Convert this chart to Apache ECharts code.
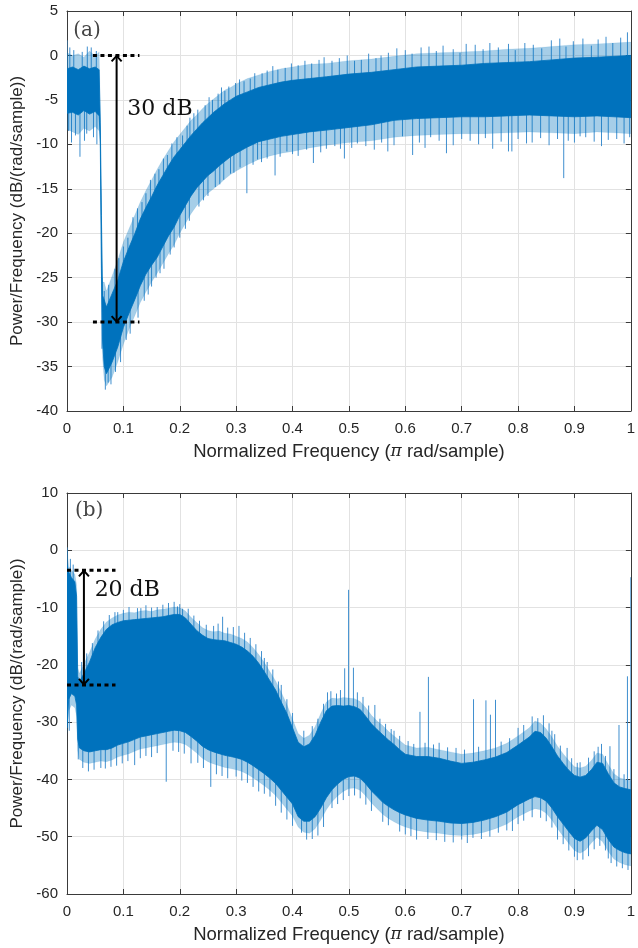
<!DOCTYPE html>
<html><head><meta charset="utf-8">
<script src="https://cdn.jsdelivr.net/npm/echarts@6/dist/echarts.min.js"></script>
<style>html,body{margin:0;padding:0;background:#fff}#chart{width:638px;height:948px}</style>
</head><body><div id="chart"></div>
<script>
// ---------- Panel (a) ----------
const freqA = [0,0.01,0.02,0.03,0.04,0.05,0.057,0.059,0.061,0.063,0.066,0.07,
  0.08,0.09,0.10,0.11,0.12,0.13,0.14,0.15,0.16,0.17,0.18,0.19,0.20,0.21,0.22,0.23,0.24,0.25,0.26,0.27,0.28,0.29,0.30,
  0.32,0.34,0.36,0.38,0.40,0.43,0.46,0.50,0.54,0.58,0.62,0.66,0.70,0.74,0.78,0.82,0.86,0.90,0.94,0.97,1.0];
const topA = [-1.5,-1.3,-1.6,-1.2,-1.5,-1.3,-1.6,-7.5,-18,-27,-27.5,-28.3,
  -26.8,-25.3,-23.2,-21.6,-20.1,-18.4,-17.1,-15.9,-14.6,-13.5,-12.4,-11.4,-10.6,-9.8,-9.0,-8.3,-7.6,-7.0,-6.4,-5.9,-5.4,-5.0,-4.6,
  -4.1,-3.6,-3.3,-3.0,-2.8,-2.6,-2.4,-2.1,-1.9,-1.6,-1.3,-1.2,-1.1,-0.9,-0.8,-0.7,-0.5,-0.3,-0.2,-0.1,0.0];
const botA = [-6.5,-6.4,-6.7,-6.2,-6.6,-6.3,-6.8,-9.5,-24,-32,-35,-35.8,
  -34.5,-32.8,-30.6,-29.0,-27.5,-25.9,-24.6,-23.6,-22.7,-21.5,-20.3,-19.3,-18.0,-16.9,-15.8,-14.9,-14.2,-13.5,-13.0,-12.4,-11.9,-11.4,-11.0,
  -10.3,-9.7,-9.4,-9.1,-8.9,-8.6,-8.4,-8.1,-7.8,-7.3,-7.1,-7.0,-6.9,-6.9,-6.8,-6.7,-6.8,-6.9,-6.8,-6.9,-7.0];
const peakA = [0.3,0.0,0.2,-0.2,0.5,-0.1,0.4,-6,-17,-25.5,-25.5,-26.5,
  -24.8,-23,-21,-19.5,-18,-16.5,-15.2,-14,-12.8,-11.7,-10.7,-9.7,-8.9,-8.1,-7.3,-6.7,-6,-5.4,-4.9,-4.4,-3.9,-3.6,-3.2,
  -2.6,-2.2,-1.8,-1.5,-1.3,-1.0,-0.9,-0.6,-0.4,-0.1,0.2,0.3,0.4,0.5,0.7,0.8,1.0,1.2,1.3,1.4,1.5];
const dipA = [-8.3,-8.6,-8.9,-8.2,-8.5,-8.0,-8.5,-10.5,-26,-34,-36.5,-37.2,
  -36.2,-34.5,-32.5,-30.8,-29.3,-27.8,-26.6,-25.5,-24.5,-23.4,-22.3,-21.3,-20,-18.9,-17.8,-16.9,-16.2,-15.5,-15,-14.5,-13.9,-13.4,-13,
  -12.3,-11.7,-11.3,-11,-10.8,-10.4,-10.1,-9.8,-9.6,-9.2,-9.0,-8.9,-8.8,-8.8,-8.7,-8.6,-8.7,-8.8,-8.6,-8.7,-8.8];
// spikes: [frequency, tip value, base value]
const spikesA = [
  [0,1.7,-4],[0.012,0.6,-3],[0.043,0.9,-3],[0.052,0.5,-3],[0.066,-26.5,-30],[0.085,-24,-29],[0.1,-21.5,-26],
  [0.117,-18.2,-24],[0.14,-15.5,-20],[0.163,-12.8,-18],[0.178,-11.2,-16],[0.205,-9,-14],[0.225,-6.5,-11],
  [0.258,-5,-9],[0.28,-4,-8],[0.299,-3.1,-7],[0.325,-2.6,-6],[0.346,-2.0,-6],[0.387,-1.4,-5],[0.434,-0.9,-5],
  [0.47,-0.6,-5],[0.522,-0.5,-4],[0.557,0.0,-4],[0.6,0.6,-4],[0.642,1.0,-4],[0.685,0.7,-4],[0.724,1.2,-4],
  [0.783,1.3,-4],[0.812,1.4,-4],[0.859,1.7,-4],[0.874,1.9,-4],[0.915,1.9,-4],[0.956,2.1,-4],[0.994,2.6,-4],
  [0.008,-9.8,-4],[0.015,-9,-4],[0.023,-11.4,-4],[0.035,-8.8,-4],[0.047,-9.2,-4],[0.062,-33,-25],[0.068,-37.6,-32],
  [0.073,-36.8,-32],[0.095,-34.5,-30],[0.126,-29.5,-25],[0.15,-26,-21],[0.172,-24,-19],[0.2,-20.5,-15],
  [0.234,-17,-12],[0.263,-14.8,-10],[0.29,-13.3,-9],[0.319,-15.5,-8],[0.345,-12,-7],[0.369,-13.5,-6],
  [0.41,-11.3,-6],[0.437,-12.1,-6],[0.46,-10.5,-6],[0.492,-11.6,-5],[0.53,-10.2,-5],[0.569,-10.8,-5],
  [0.595,-9.1,-5],[0.613,-11.2,-5],[0.645,-9.2,-5],[0.673,-11,-5],[0.7,-9.4,-4],[0.755,-10.5,-4],
  [0.783,-10.8,-4],[0.789,-10.8,-4],[0.815,-9.9,-4],[0.881,-13.8,-4],[0.889,-9.6,-4],[0.92,-9.2,-4],
  [0.96,-9.5,-4],[0.998,-9.2,-4],
  [0.005,0.9,-3],[0.027,0.4,-3],[0.036,1.0,-3],[0.074,-25.8,-30],[0.092,-22.8,-27],[0.108,-20.5,-25],[0.125,-17.2,-22],
  [0.133,-16.5,-21],[0.148,-14,-19],[0.156,-13.3,-18],[0.171,-11.6,-16],[0.186,-9.9,-14],[0.195,-9.2,-14],[0.213,-7.9,-12],
  [0.218,-7.0,-12],[0.232,-6.1,-11],[0.245,-5.6,-10],[0.252,-4.7,-9],[0.268,-4.3,-9],[0.274,-3.6,-8],[0.287,-3.5,-8],
  [0.306,-2.7,-7],[0.314,-2.9,-7],[0.333,-2.0,-6],[0.355,-1.7,-6],[0.365,-1.2,-6],[0.374,-1.6,-5],[0.398,-0.9,-5],
  [0.41,-1.1,-5],[0.422,-0.6,-5],[0.447,-0.5,-5],[0.456,-0.2,-5],[0.483,-0.3,-5],[0.497,0.0,-4],[0.51,-0.6,-4],
  [0.535,0.2,-4],[0.548,-0.3,-4],[0.57,0.3,-4],[0.585,0.8,-4],[0.612,0.2,-4],[0.628,0.9,-4],[0.655,0.5,-4],
  [0.667,1.1,-4],[0.697,0.3,-4],[0.708,1.3,-4],[0.738,0.7,-4],[0.75,1.4,-4],[0.765,0.9,-4],[0.795,0.6,-4],
  [0.827,1.2,-4],[0.842,0.8,-4],[0.885,1.0,-4],[0.898,1.6,-4],[0.93,1.1,-4],[0.942,1.8,-4],[0.968,1.4,-4],[0.982,2.0,-4],
  [0.003,-8.5,-4],[0.031,-9.6,-4],[0.053,-10,-4],[0.078,-37,-32],[0.086,-35.6,-30],[0.105,-32,-28],[0.112,-31.3,-27],
  [0.137,-27.6,-23],[0.144,-26.9,-22],[0.158,-25,-20],[0.165,-24.5,-20],[0.183,-22.4,-18],[0.19,-21.6,-17],[0.21,-19.5,-14],
  [0.217,-18.6,-13],[0.242,-16.3,-12],[0.25,-15.8,-11],[0.271,-14.5,-10],[0.278,-14.0,-10],[0.296,-13.2,-9],[0.307,-12.6,-9],
  [0.33,-12.3,-8],[0.338,-11.7,-8],[0.355,-11.6,-7],[0.378,-11.4,-7],[0.39,-10.8,-6],[0.4,-11.1,-6],[0.425,-10.6,-6],
  [0.45,-10.9,-6],[0.475,-10.2,-6],[0.485,-10.5,-6],[0.505,-10.4,-5],[0.515,-9.9,-5],[0.545,-10.6,-5],[0.558,-9.8,-5],
  [0.58,-10.1,-5],[0.625,-9.8,-5],[0.635,-10.4,-5],[0.66,-9.6,-5],[0.685,-10.1,-5],[0.715,-9.6,-4],[0.73,-10.0,-4],
  [0.742,-9.3,-4],[0.77,-9.7,-4],[0.8,-9.4,-4],[0.825,-9.8,-4],[0.84,-9.3,-4],[0.855,-10.1,-4],[0.87,-9.4,-4],
  [0.9,-9.8,-4],[0.91,-9.1,-4],[0.935,-9.7,-4],[0.948,-10.2,-4],[0.975,-9.4,-4],[0.988,-9.9,-4]
];
const levelsA = [0, -30];        // dotted reference levels (dB)
const spanA = [0.046, 0.1285];   // dotted line extent (frequency)
const arrowXA = 0.088;
const noteA = ['30 dB', 0.107, -6.1];
const tagA = ['(a)', 0.011, 2.75];

// ---------- Panel (b) ----------
const freqB = [0,0.003,0.008,0.014,0.017,0.019,0.022,
  0.03,0.04,0.05,0.06,0.07,0.08,0.09,0.10,0.11,0.12,0.13,0.14,0.15,0.16,0.17,0.18,0.19,0.20,
  0.21,0.22,0.23,0.24,0.25,0.26,0.27,0.28,0.29,0.30,0.31,0.32,0.33,0.34,0.35,0.36,0.37,0.38,0.39,0.40,
  0.41,0.42,0.43,0.44,0.45,0.46,0.47,0.48,0.49,0.50,0.51,0.52,0.53,0.54,0.55,0.56,0.57,0.58,0.59,0.60,
  0.62,0.64,0.66,0.68,0.70,0.72,0.74,0.76,0.78,0.80,0.82,
  0.83,0.84,0.85,0.86,0.87,0.88,0.89,0.90,0.91,0.92,0.93,0.94,0.95,0.96,0.97,0.98,0.99,1.0];
const topB = [-2.5,-3.8,-4.8,-5.5,-8,-22,-23,
  -21.5,-19.5,-17,-15.2,-13.8,-13,-12.6,-12.3,-12.2,-12.1,-12,-11.9,-11.8,-11.7,-11.6,-11.4,-11.2,-11.2,
  -11.8,-12.9,-14,-14.8,-15.4,-15.6,-15.7,-15.8,-16.1,-16.4,-16.9,-17.6,-18.5,-19.7,-21.2,-22.8,-24.4,-26.5,-28.5,-31,
  -33.5,-34.3,-33.8,-32.3,-30,-28,-27.2,-27.1,-27.2,-27.1,-27.3,-27.8,-29,-30.3,-31.3,-32.2,-33.1,-33.9,-34.8,-35.6,
  -36,-36,-36.3,-36.8,-37.2,-37,-36.6,-36.1,-35.3,-34,-32.6,
  -31.6,-31.8,-32.8,-34.3,-35.9,-37.2,-38.4,-39.3,-39.6,-39.3,-38.3,-37,-37.2,-39,-40.6,-41.3,-41.6,-41.8];
const botB = [-31,-26,-25,-25.5,-27,-33,-34.5,
  -35,-35.2,-35,-34.8,-34.8,-34.5,-34,-33.7,-33.4,-33,-32.6,-32.4,-32.2,-32,-31.8,-31.6,-31.4,-31.5,
  -31.8,-32.5,-33.3,-34.2,-34.8,-35.2,-35.5,-35.8,-36,-36.2,-36.5,-37,-37.6,-38.3,-39,-39.8,-40.7,-41.9,-43.1,-44.3,
  -46.5,-47.3,-47.3,-46.5,-45,-43.2,-41.8,-40.8,-40,-39.5,-39.4,-39.8,-40.8,-42,-43,-44,-44.7,-45.3,-45.8,-46.2,
  -46.8,-47.1,-47.3,-47.6,-47.7,-47.5,-47.1,-46.5,-45.7,-44.4,-43.4,
  -43,-43.2,-43.8,-45,-46.5,-47.8,-49.1,-50.3,-50.8,-50.2,-49,-48,-48.8,-50.5,-51.8,-52.4,-52.8,-53];
const peakB = [0.5,-2.8,-3.5,-4.2,-6,-20.5,-21.5,
  -19.8,-17.8,-15.5,-13.8,-12.5,-11.8,-11.3,-11.0,-10.8,-10.9,-10.6,-10.5,-10.7,-10.4,-10.3,-10.1,-9.9,-10.0,
  -10.6,-11.7,-12.6,-13.5,-14,-14.2,-14.1,-14.5,-14.6,-15,-15.4,-16,-17,-18.2,-19.6,-21.2,-22.8,-24.8,-26.9,-29.5,
  -32,-32.8,-32.3,-30.8,-28.5,-26.5,-25.8,-25.9,-25.7,-25.8,-25.9,-26.4,-27.5,-28.8,-29.8,-30.6,-31.6,-32.4,-33.2,-34,
  -34.5,-34.4,-34.8,-35.2,-35.6,-35.4,-35,-34.5,-33.7,-32.4,-31,
  -29.8,-30.2,-31.2,-32.6,-34.2,-35.5,-36.7,-37.8,-38,-37.7,-36.7,-35.4,-35.6,-37.4,-39,-39.7,-40,-40.2];
const dipB = [-32,-28,-27,-27.5,-29,-35,-36.5,
  -37,-37.2,-37,-36.8,-36.9,-36.6,-36.1,-35.8,-35.5,-35.1,-34.7,-34.5,-34.3,-34.1,-33.9,-33.7,-33.5,-33.6,
  -33.9,-34.6,-35.4,-36.3,-36.9,-37.3,-37.6,-37.9,-38.1,-38.3,-38.6,-39.1,-39.7,-40.4,-41.1,-41.9,-42.8,-44,-45.2,-46.4,
  -48.3,-49.2,-49.4,-48.6,-47.1,-45.3,-43.9,-42.9,-42.1,-41.6,-41.5,-41.9,-42.9,-44.1,-45.1,-46.1,-46.8,-47.4,-47.9,-48.3,
  -48.9,-49.2,-49.4,-49.7,-49.8,-49.6,-49.2,-48.6,-47.8,-46.5,-45.5,
  -45.1,-45.3,-45.9,-47.1,-48.6,-49.9,-51.2,-52.4,-52.9,-52.3,-51.1,-50.1,-50.9,-52.6,-53.9,-54.5,-54.9,-55.1];
const spikesB = [
  [0,0.5,-20],[0.4994,-6.9,-30],[0.4925,-20.6,-30],[0.508,-20.5,-30],[0.546,-27,-33],[0.626,-28.2,-38],
  [0.641,-22.1,-38],[0.721,-26,-38],[0.743,-26.2,-38],[0.751,-28.7,-38],[0.76,-26.1,-38],[0.835,-29.3,-33],
  [0.887,-34.5,-38],[0.942,-34.3,-40],[0.963,-34.2,-42],[0.979,-30.5,-42],[0.994,-22,-43],[1.0,-4.7,-50],
  [0.131,-10.1,-15],[0.196,-9.8,-15],[0.205,-10.2,-15],[0.247,-13,-18],[0.276,-11.6,-18],[0.305,-13.2,-19],
  [0.16,-9.9,-15],[0.09,-10.8,-15],[0.35,-18.8,-23],[0.38,-23.5,-29],[0.462,-24.8,-30],[0.58,-31.5,-36],
  [0.66,-33.6,-38],[0.8,-31,-36],[0.86,-31.5,-36],[0.91,-37,-42],
  [0.02,-36.5,-30],[0.06,-38,-32],[0.12,-37.5,-32],[0.176,-40.4,-30],[0.22,-37.2,-32],[0.255,-41.3,-33],
  [0.3,-39.5,-34],[0.36,-43,-38],[0.416,-49.3,-44],[0.47,-45,-40],[0.54,-45.5,-41],[0.62,-50.5,-45],
  [0.7,-50.5,-45],[0.72,-50.2,-45],[0.79,-49,-44],[0.87,-50.5,-45],[0.9,-53.5,-48],[0.96,-53.8,-49],[0.985,-55.5,-50],
  [0.006,-1.5,-10],[0.011,-2.5,-10],[0.026,-19.5,-25],[0.035,-18,-23],[0.045,-16.2,-21],[0.055,-14,-19],[0.065,-12.4,-17],
  [0.075,-11.3,-16],[0.085,-10.8,-15],[0.1,-10.4,-15],[0.11,-9.9,-15],[0.125,-10.1,-15],[0.14,-9.6,-15],[0.15,-10.0,-15],
  [0.17,-9.5,-15],[0.18,-9.2,-15],[0.19,-9.0,-15],[0.2,-9.4,-15],[0.215,-10.2,-15],[0.225,-11.4,-16],[0.235,-12.3,-17],
  [0.26,-13.2,-18],[0.268,-12.8,-18],[0.285,-13.5,-18],[0.295,-13.4,-19],[0.315,-14.4,-19],[0.325,-15.3,-20],
  [0.335,-16.4,-21],[0.345,-17.6,-22],[0.355,-19.5,-24],[0.365,-20.8,-25],[0.375,-22.9,-27],[0.39,-26,-30],
  [0.4,-28.4,-32],[0.42,-31.5,-35],[0.435,-30.7,-35],[0.445,-29.4,-33],[0.455,-26.8,-31],[0.468,-24.6,-30],
  [0.478,-25.0,-30],[0.485,-24.4,-30],[0.515,-24.8,-30],[0.525,-25.6,-31],[0.535,-27.1,-32],[0.555,-29.4,-34],
  [0.565,-30.3,-35],[0.575,-31.2,-35],[0.59,-32.4,-36],[0.605,-33.3,-37],[0.615,-33.8,-38],[0.635,-33.6,-38],
  [0.65,-33.9,-38],[0.675,-34.4,-38],[0.69,-34.5,-39],[0.705,-34.8,-39],[0.73,-34.3,-38],[0.77,-33.4,-38],
  [0.785,-32.8,-37],[0.81,-30.5,-35],[0.825,-29,-34],[0.845,-28.8,-34],[0.855,-30.2,-35],[0.865,-32.1,-36],
  [0.875,-34.1,-38],[0.895,-36.3,-40],[0.905,-37.1,-41],[0.925,-36.2,-40],[0.935,-35.1,-40],[0.948,-33.8,-39],
  [0.955,-35.9,-40],[0.97,-38.2,-42],[0.988,-39.1,-43],
  [0.004,-31.5,-20],[0.028,-38,-32],[0.038,-38.6,-33],[0.048,-38.3,-33],[0.068,-38.1,-33],[0.078,-37.8,-32],
  [0.088,-37.6,-32],[0.098,-37.2,-31],[0.108,-36.8,-31],[0.13,-36.3,-30],[0.14,-35.9,-30],[0.15,-36.1,-30],
  [0.16,-35.4,-30],[0.188,-35.0,-29],[0.198,-35.2,-29],[0.208,-35.5,-30],[0.232,-37.1,-31],[0.242,-38.0,-32],
  [0.265,-39.1,-33],[0.275,-39.4,-33],[0.285,-39.8,-34],[0.31,-40.2,-35],[0.32,-40.6,-35],[0.33,-41.3,-36],
  [0.34,-42.1,-36],[0.35,-42.5,-37],[0.37,-44.6,-39],[0.38,-45.8,-40],[0.39,-47.0,-42],[0.40,-48.1,-43],
  [0.425,-50.5,-45],[0.435,-50.4,-45],[0.445,-49.8,-44],[0.455,-48.3,-42],[0.48,-44.3,-39],[0.49,-43.6,-38],
  [0.5,-42.9,-38],[0.51,-42.8,-38],[0.52,-43.3,-38],[0.53,-44.4,-39],[0.56,-47.4,-42],[0.57,-48.0,-43],
  [0.59,-49.1,-44],[0.6,-49.6,-44],[0.61,-49.9,-44],[0.64,-50.4,-45],[0.655,-50.6,-45],[0.67,-50.9,-45],
  [0.685,-51.0,-46],[0.71,-51.1,-46],[0.735,-50.4,-45],[0.75,-50.0,-45],[0.765,-49.3,-44],[0.78,-48.9,-44],
  [0.8,-47.8,-43],[0.81,-47.2,-42],[0.825,-46.6,-41],[0.84,-46.7,-41],[0.85,-47.3,-42],[0.86,-48.4,-43],
  [0.88,-51.3,-46],[0.89,-52.4,-47],[0.905,-54.1,-48],[0.915,-54.0,-48],[0.925,-53.4,-48],[0.935,-52.2,-47],
  [0.945,-51.6,-46],[0.955,-52.4,-47],[0.965,-54.6,-49],[0.975,-55.2,-50],[0.995,-55.8,-50]
];
const levelsB = [-3.5, -23.5];
const spanB = [0, 0.086];
const arrowXB = 0.03;
const noteB = ['20 dB', 0.049, -7.0];
const tagB = ['(b)', 0.014, 6.9];

// ---------- axes ----------
const xTicks = [0,0.1,0.2,0.3,0.4,0.5,0.6,0.7,0.8,0.9,1];
const yRangeA = [-40, 5, 5];
const yRangeB = [-60, 10, 10];
const xTitle = 'Normalized Frequency ({pi|π} rad/sample)';
const yTitle = 'Power/Frequency (dB/(rad/sample))';

const BLUE = '#0072BD';
const AX = '#3a3a3a';
const FONT = 'Liberation Sans';

function xAxes(gi) {
  return [{
    gridIndex: gi, type: 'value', min: 0, max: 1, interval: 0.1, position: 'bottom',
    axisLine: {show: true, onZero: false, lineStyle: {color: AX, width: 1}},
    axisTick: {show: true, inside: true, length: 5, lineStyle: {color: AX}},
    axisLabel: {color: '#262626', fontSize: 15, fontFamily: FONT, margin: 10,
      formatter: v => { const t = xTicks.find(k => Math.abs(k - v) < 1e-6); return t === undefined ? '' : String(t); }},
    splitLine: {show: true, lineStyle: {color: '#e2e2e2', width: 1}},
    name: xTitle, nameLocation: 'middle', nameGap: 41,
    nameTextStyle: {fontSize: 18.5, fontFamily: FONT, color: '#262626', verticalAlign: 'middle',
      rich: {pi: {fontFamily: 'DejaVu Serif', fontStyle: 'italic', fontSize: 17, color: '#262626'}}}
  }, {
    gridIndex: gi, type: 'value', min: 0, max: 1, interval: 0.1, position: 'top',
    axisLine: {show: true, onZero: false, lineStyle: {color: AX, width: 1}},
    axisTick: {show: true, inside: true, length: 5, lineStyle: {color: AX}},
    axisLabel: {show: false}, splitLine: {show: false}
  }];
}
function yAxes(gi, r) {
  return [{
    gridIndex: gi, type: 'value', min: r[0], max: r[1], interval: r[2], position: 'left',
    axisLine: {show: true, onZero: false, lineStyle: {color: AX, width: 1}},
    axisTick: {show: true, inside: true, length: 5, lineStyle: {color: AX}},
    axisLabel: {color: '#262626', fontSize: 15, fontFamily: FONT, margin: 9},
    splitLine: {show: true, lineStyle: {color: '#e2e2e2', width: 1}},
    name: yTitle, nameLocation: 'middle', nameGap: 49, nameRotate: 90,
    nameTextStyle: {fontSize: 17, fontFamily: FONT, color: '#262626', verticalAlign: 'middle'}
  }, {
    gridIndex: gi, type: 'value', min: r[0], max: r[1], interval: r[2], position: 'right',
    axisLine: {show: true, onZero: false, lineStyle: {color: AX, width: 1}},
    axisTick: {show: true, inside: true, length: 5, lineStyle: {color: AX}},
    axisLabel: {show: false}, splitLine: {show: false}
  }];
}

function band(gi, xs, hi, lo, fill, opacity, z) {
  return {
    type: 'custom', xAxisIndex: gi * 2, yAxisIndex: gi * 2, z, silent: true, clip: true,
    data: [[xs[0], hi[0]]],
    renderItem: (p, api) => {
      const pts = [];
      for (let i = 0; i < xs.length; i++) pts.push(api.coord([xs[i], hi[i]]));
      for (let i = xs.length - 1; i >= 0; i--) pts.push(api.coord([xs[i], lo[i]]));
      return {type: 'polygon', shape: {points: pts}, style: {fill, opacity, stroke: fill, lineWidth: 0.8, strokeOpacity: opacity}};
    }
  };
}
function spikes(gi, list) {
  return {
    type: 'custom', xAxisIndex: gi * 2, yAxisIndex: gi * 2, z: 2, silent: true, clip: true,
    data: list, encode: {x: 0, y: [1, 2]},
    renderItem: (p, api) => {
      const a = api.coord([api.value(0), api.value(1)]);
      const b = api.coord([api.value(0), api.value(2)]);
      return {type: 'line', shape: {x1: a[0], y1: a[1], x2: b[0], y2: b[1]}, style: {stroke: '#3f8fcf', lineWidth: 1}};
    }
  };
}
function annot(gi, levels, span, ax, note, tag) {
  return [{
    type: 'custom', xAxisIndex: gi * 2, yAxisIndex: gi * 2, z: 10, silent: true, clip: false,
    data: levels.map(l => [span[0], l]),
    renderItem: (p, api) => {
      const a = api.coord([span[0], api.value(1)]);
      const b = api.coord([span[1], api.value(1)]);
      return {type: 'line', shape: {x1: a[0], y1: a[1], x2: b[0], y2: b[1]},
        style: {stroke: '#000', lineWidth: 3, lineDash: [4, 3.5]}};
    }
  }, {
    type: 'custom', xAxisIndex: gi * 2, yAxisIndex: gi * 2, z: 11, silent: true, clip: false,
    data: [[ax, levels[0], levels[1]]], encode: {x: 0, y: [1, 2]},
    renderItem: (p, api) => {
      const t = api.coord([api.value(0), api.value(1)]);
      const b = api.coord([api.value(0), api.value(2)]);
      const h = 6, w = 5;
      const st = {stroke: '#000', lineWidth: 2, fill: null};
      return {type: 'group', children: [
        {type: 'line', shape: {x1: t[0], y1: t[1] + 1, x2: b[0], y2: b[1] - 1}, style: st},
        {type: 'polyline', shape: {points: [[t[0] - w, t[1] + h], [t[0], t[1] + 0.5], [t[0] + w, t[1] + h]]}, style: st},
        {type: 'polyline', shape: {points: [[b[0] - w, b[1] - h], [b[0], b[1] - 0.5], [b[0] + w, b[1] - h]]}, style: st}
      ]};
    }
  }, {
    type: 'custom', xAxisIndex: gi * 2, yAxisIndex: gi * 2, z: 12, silent: true, clip: false,
    data: [[note[1], note[2]], [tag[1], tag[2]]],
    renderItem: (p, api) => {
      const c = api.coord([api.value(0), api.value(1)]);
      const isNote = p.dataIndex === 0;
      return {type: 'text', x: c[0], y: c[1], style: {
        text: isNote ? note[0] : tag[0],
        fontFamily: 'DejaVu Serif', fontSize: isNote ? 22 : 20,
        fill: isNote ? '#111' : '#444', align: 'left', verticalAlign: 'middle'}};
    }
  }];
}

const chart = echarts.init(document.getElementById('chart'), null, {renderer: 'canvas'});
chart.setOption({
  animation: false,
  backgroundColor: '#fff',
  grid: [
    {left: 67, top: 11, width: 568, height: 400, show: false},
    {left: 67, top: 493, width: 568, height: 401, show: false}
  ],
  xAxis: [...xAxes(0), ...xAxes(1)],
  yAxis: [...yAxes(0, yRangeA), ...yAxes(1, yRangeB)],
  series: [
    spikes(0, spikesA),
    band(0, freqA, peakA, dipA, BLUE, 0.35, 3),
    band(0, freqA, topA, botA, BLUE, 1, 4),
    ...annot(0, levelsA, spanA, arrowXA, noteA, tagA),
    spikes(1, spikesB),
    band(1, freqB, peakB, dipB, BLUE, 0.35, 3),
    band(1, freqB, topB, botB, BLUE, 1, 4),
    ...annot(1, levelsB, spanB, arrowXB, noteB, tagB)
  ]
});
</script></body></html>
